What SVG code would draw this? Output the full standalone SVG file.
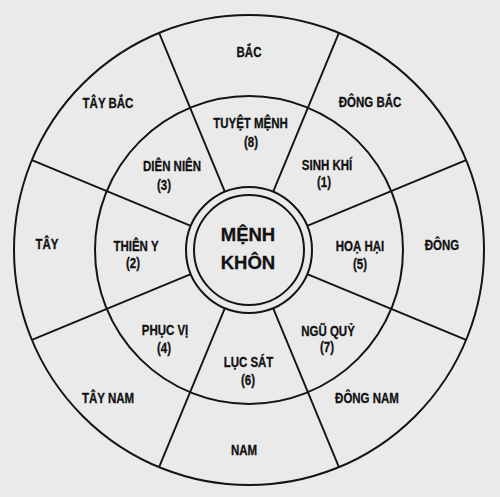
<svg xmlns="http://www.w3.org/2000/svg" width="500" height="497" viewBox="0 0 500 497">
<style>
.bg{fill:#eaeaea}
.ring{fill:none;stroke:#141414;stroke-width:2}
.spoke{stroke:#141414;stroke-width:1.9;fill:none}
.lbl{font-family:"Liberation Sans",Arial,sans-serif;font-weight:bold;font-size:14px;fill:#111;stroke:#111;stroke-width:0.3;text-anchor:middle}
.ctr{font-family:"Liberation Sans",Arial,sans-serif;font-weight:bold;font-size:18.5px;fill:#111;stroke:#111;stroke-width:0.3;text-anchor:middle}
</style>
<rect class="bg" x="0" y="0" width="500" height="497"/>
<g id="rings">
<circle class="ring" cx="249" cy="250" r="235"/>
<circle class="ring" cx="249" cy="250" r="154"/>
<circle class="ring" cx="249" cy="250" r="63"/>
<circle class="ring" cx="249" cy="250" r="55"/>
</g>
<g id="connectors">
<line class="spoke" x1="307.2" y1="274.1" x2="466.1" y2="339.9"/>
<line class="spoke" x1="273.1" y1="308.2" x2="338.9" y2="467.1"/>
<line class="spoke" x1="224.9" y1="308.2" x2="159.1" y2="467.1"/>
<line class="spoke" x1="190.8" y1="274.1" x2="31.9" y2="339.9"/>
<line class="spoke" x1="190.8" y1="225.9" x2="31.9" y2="160.1"/>
<line class="spoke" x1="224.9" y1="191.8" x2="159.1" y2="32.9"/>
<line class="spoke" x1="273.1" y1="191.8" x2="338.9" y2="32.9"/>
<line class="spoke" x1="307.2" y1="225.9" x2="466.1" y2="160.1"/>
</g>
<g id="center">
<text class="ctr" x="248" y="241">MỆNH</text>
<text class="ctr" x="248" y="269">KHÔN</text>
</g>
<g id="bac"><text class="lbl" transform="translate(249,57) scale(0.82,1)">BẮC</text></g>
<g id="dong-bac"><text class="lbl" transform="translate(370,107) scale(0.82,1)">ĐÔNG BẮC</text></g>
<g id="dong"><text class="lbl" transform="translate(442,250) scale(0.82,1)">ĐÔNG</text></g>
<g id="dong-nam"><text class="lbl" transform="translate(367,403) scale(0.82,1)">ĐÔNG NAM</text></g>
<g id="nam"><text class="lbl" transform="translate(244,455) scale(0.82,1)">NAM</text></g>
<g id="tay-nam"><text class="lbl" transform="translate(108,403) scale(0.82,1)">TÂY NAM</text></g>
<g id="tay"><text class="lbl" transform="translate(47,249) scale(0.82,1)">TÂY</text></g>
<g id="tay-bac"><text class="lbl" transform="translate(108,108) scale(0.82,1)">TÂY BẮC</text></g>
<g id="tuyet-menh">
<text class="lbl" transform="translate(250.5,128) scale(0.82,1)">TUYỆT MỆNH</text>
<text class="lbl" transform="translate(251,147) scale(0.82,1)">(8)</text>
</g>
<g id="sinh-khi">
<text class="lbl" transform="translate(327,170) scale(0.82,1)">SINH KHÍ</text>
<text class="lbl" transform="translate(324,187) scale(0.82,1)">(1)</text>
</g>
<g id="hoa-hai">
<text class="lbl" transform="translate(360,251) scale(0.82,1)">HOẠ HẠI</text>
<text class="lbl" transform="translate(360,269) scale(0.82,1)">(5)</text>
</g>
<g id="ngu-quy">
<text class="lbl" transform="translate(328,336) scale(0.82,1)">NGŨ QUỶ</text>
<text class="lbl" transform="translate(327,352) scale(0.82,1)">(7)</text>
</g>
<g id="luc-sat">
<text class="lbl" transform="translate(248.5,367) scale(0.82,1)">LỤC SÁT</text>
<text class="lbl" transform="translate(248,385) scale(0.82,1)">(6)</text>
</g>
<g id="phuc-vi">
<text class="lbl" transform="translate(165,335) scale(0.82,1)">PHỤC VỊ</text>
<text class="lbl" transform="translate(164,353) scale(0.82,1)">(4)</text>
</g>
<g id="thien-y">
<text class="lbl" transform="translate(136,251) scale(0.82,1)">THIÊN Y</text>
<text class="lbl" transform="translate(133,268) scale(0.82,1)">(2)</text>
</g>
<g id="dien-nien">
<text class="lbl" transform="translate(172,171) scale(0.82,1)">DIÊN NIÊN</text>
<text class="lbl" transform="translate(164,190) scale(0.82,1)">(3)</text>
</g>
</svg>
